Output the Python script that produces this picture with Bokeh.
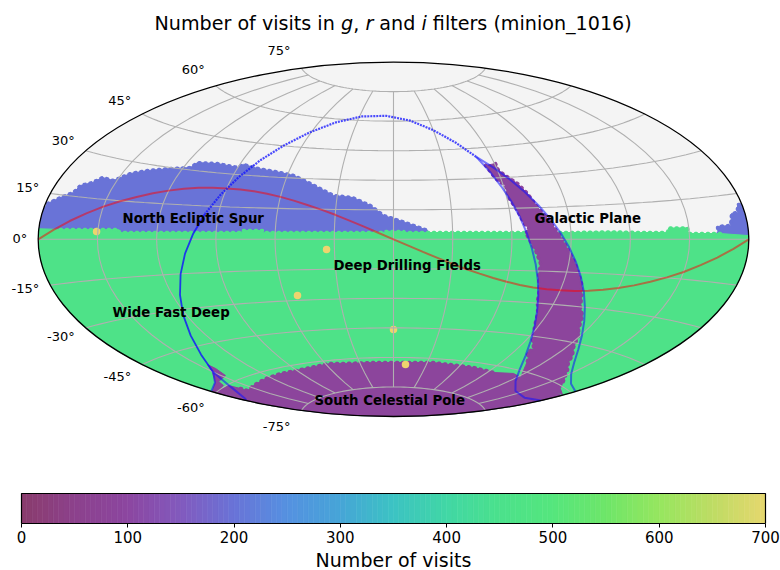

import numpy as np
from bokeh.plotting import figure
from bokeh.layouts import column
from bokeh.models import Label, FixedTicker, LinearAxis
from bokeh.embed import file_html
from bokeh.resources import INLINE
from bokeh.core.properties import value

# ---- data -----------------------------------------------------------------
TITLE_PARTS = ["Number of visits in", "g", ",", "r", "and", "i", "filters (minion_1016)"]
LAT_TICKS = [75, 60, 45, 30, 15, 0, -15, -30, -45, -60, -75]
LON_GRID = [-150, -120, -90, -60, -30, 0, 30, 60, 90, 120, 150]
COLORBAR_TICKS = [0, 100, 200, 300, 400, 500, 600, 700]
COLORBAR_LABEL = "Number of visits"

VISITS_WFD, VISITS_NES, VISITS_SCP, VISITS_GP, VISITS_DDF = 465, 200, 90, 90, 700

NES_LON = [-179.9,-179.9,-179.9,-179.0,-173.8,-168.5,-167.0,-161.9,-158.6,-151.8,-145.6,-137.9,-126.5,-116.1,-114.4,-102.9,-90.2,-87.9,-78.6,-64.5,-56.5,-47.0,-32.0,-21.8,-12.0,-5.1,6.1,17.3,17.2]
NES_LAT = [1.2,5.4,10.0,11.7,14.1,16.3,18.9,20.5,22.7,22.2,25.6,27.6,29.6,31.0,33.4,34.0,33.2,34.8,33.5,32.3,31.2,28.1,22.0,21.1,17.1,12.1,8.5,4.5,-0.6]
NES2_LON = [164.7,164.6,171.3,173.2,176.3,177.8,179.8,179.9,179.9,179.8]
NES2_LAT = [-0.4,4.5,4.7,8.7,8.9,11.5,11.3,7.7,3.5,0.3]

WFD_TOP_LON = [-180,-169.0,-153.8,-139.6,-138.9,-123.2,-108.0,-92.8,-77.1,-76.6,-66.5,-65.9,-47.2,-26.9,-4.6,-4.1,5.1,5.6,28.9,49.2,69.5,89.8,110.1,125.3,138.9,139.7,149.3,149.5,165.8,180]
WFD_TOP_LAT = [3.4,3.4,3.6,3.8,2.7,2.8,3.0,3.1,3.2,4.1,4.2,3.3,3.4,3.4,3.5,4.0,4.0,3.5,3.4,3.3,3.2,3.1,3.2,2.8,2.7,4.4,4.3,2.2,2.0,1.2]

SCP_TOP_LON = [-180,-160.6,-158.7,-158.3,-145.1,-125.1,-106.7,-91.1,-75.7,-55.6,-41.1,-20.5,0.0,17.8,35.4,57.9,73.2,95.2,112.0,122.8,149.7,174.8,180]
SCP_TOP_LAT = [-59.8,-60.3,-62.5,-63.9,-63.4,-62.7,-62.4,-62.5,-62.2,-61.5,-62.2,-62.4,-62.6,-62.4,-62.0,-62.4,-62.4,-63.1,-61.7,-62.4,-62.5,-61.9,-61.9]

TAIL_LON = [-144.3,-144.1,-147.1,-160.0,-163.5,-176.9,-179.5,-163.3,-150.9]
TAIL_LAT = [-52.1,-54.2,-57.3,-58.1,-59.6,-60.0,-59.3,-57.9,-55.0]

GP_LEFT_LON = [54.3,57.0,61.2,60.9,64.1,66.3,69.5,66.9,72.2,75.5,76.1,78.6,80.3,84.3,86.6,93.0,100.4,99.6,105.6,110.8,122.8]
GP_LEFT_LAT = [36.3,29.7,26.1,20.3,13.9,8.1,4.2,3.3,-5.3,-11.4,-18.0,-23.2,-28.8,-34.7,-38.9,-46.1,-50.2,-52.3,-54.7,-57.6,-62.4]
GP_RIGHT_LON = [60.6,60.5,63.2,68.1,71.6,74.8,78.8,83.7,88.9,93.3,96.3,99.7,103.2,106.0,110.3,115.6,118.0,124.4,130.8,135.5,144.2,159.7,166.9,178.7]
GP_RIGHT_LAT = [36.9,33.5,30.9,26.8,21.8,15.1,9.8,2.7,-5.1,-11.0,-15.4,-19.8,-25.9,-30.3,-33.6,-39.9,-41.0,-46.8,-49.8,-52.6,-55.2,-59.3,-60.7,-61.5]

DDF_LON = [-150.6,-34.0,-52.9,0.0,11.0]
DDF_LAT = [2.9,-5.1,-27.6,-45.8,-63.5]

ECL_LON = [-180,-172.5,-165,-157.5,-150,-142.5,-135,-127.5,-120,-112.5,-105,-97.5,-90,-82.5,-75,-67.5,-60,-52.5,-45,-37.5,-30,-22.5,-15,-7.5,0,7.5,15,22.5,30,37.5,45,52.5,60,67.5,75,82.5,90,97.5,105,112.5,120,127.5,135,142.5,150,157.5,165,172.5,180]
ECL_LAT = [0,3.2,6.4,9.4,12.3,14.8,17.0,19.0,20.6,21.9,22.8,23.3,23.4,23.3,22.8,21.9,20.6,19.0,17.0,14.8,12.3,9.4,6.4,3.2,0,-3.2,-6.4,-9.4,-12.3,-14.8,-17.0,-19.0,-20.6,-21.9,-22.8,-23.3,-23.4,-23.3,-22.8,-21.9,-20.6,-19.0,-17.0,-14.8,-12.3,-9.4,-6.4,-3.2,0]

MW_LOOP_LON = [51.0,42.0,30.0,13.9,-6.5,-28.1,-46.8,-61.1,-71.7,-79.9,-86.4,-91.9,-96.9,-101.5,-106.1,-110.8,-116.0,-121.9,-129.0,-138.0,-150.0]
MW_LOOP_LAT = [40.7,48.3,55.0,60.2,62.7,62.0,58.3,52.4,45.2,37.3,28.9,20.3,11.5,2.6,-6.3,-15.1,-23.9,-32.4,-40.7,-48.3,-55.0]
MW_UP_LON = [-150.0,-163.9,-179.3,-180,180,165.1,150.9,138.9,129.0,120.9,114.0,108.1,102.9,98.1,93.6,89.2,84.8,80.3,75.5,70.4,64.8,58.4,51.0]
MW_UP_LAT = [-55.0,-57.9,-59.1,-59.2,-59.2,-58.3,-55.8,-52.0,-47.2,-41.8,-35.9,-29.8,-23.4,-16.9,-10.4,-3.8,2.9,9.5,16.1,22.6,28.9,35.0,40.7]
MW_LO_LON = [-150.0,-161.1,-176.3,-180,180,164.4,143.4,125.1,111.2,101.1,93.6,87.9,83.3,79.5,76.2,73.2,70.3,67.6,64.9,62.0,58.8,55.3,51.0]
MW_LO_LAT = [-55.0,-60.7,-65.1,-65.5,-65.5,-67.4,-67.1,-64.2,-59.6,-53.8,-47.5,-40.7,-33.8,-26.6,-19.3,-12.0,-4.5,3.0,10.6,18.2,25.7,33.2,40.7]

CMAP_VALUES = [0,50,100,150,200,250,300,350,400,450,500,550,600,650,700]
CMAP_RED    = [138,140,140,130,105,85,70,60,65,75,85,110,150,190,230]
CMAP_GREEN  = [60,65,70,90,115,145,165,195,215,225,230,230,230,220,215]
CMAP_BLUE   = [108,140,160,190,215,225,215,195,165,140,125,105,95,100,110]

ANNOTATIONS = ["North Ecliptic Spur", "Galactic Plane", "Deep Drilling Fields", "Wide Fast Deep", "South Celestial Pole"]

# ---- helpers --------------------------------------------------------------
def aitoff(lon, lat):
    lon = np.radians(np.asarray(lon, float)); lat = np.radians(np.asarray(lat, float))
    a = np.arccos(np.cos(lat) * np.cos(lon / 2))
    s = np.sinc(a / np.pi)
    return 2 * np.cos(lat) * np.sin(lon / 2) / s, np.sin(lat) / s

def colour(v):
    return "#%02x%02x%02x" % tuple(int(round(np.interp(v, CMAP_VALUES, c))) for c in (CMAP_RED, CMAP_GREEN, CMAP_BLUE))

def split_wrap(lon, lat):
    out, cur = [], [[], []]
    for i in range(len(lon)):
        if i and abs(lon[i] - lon[i - 1]) > 180:
            out.append(cur); cur = [[], []]
        cur[0].append(lon[i]); cur[1].append(lat[i])
    out.append(cur)
    return out

FONT = "DejaVu Sans"
W, H_MAP, H_BAR, H_FOOT = 780, 492, 56, 22
LEFT = 6
CX, CY, RX, RY = 393.0, 238.8, 355.3, 177.2
SX, SY = RX / np.pi, RY / (np.pi / 2)

p = figure(width=W, height=H_MAP, output_backend="svg", toolbar_location=None,
           x_range=((LEFT - CX) / SX, (W - CX) / SX),
           y_range=((CY - H_MAP) / SY, CY / SY),
           min_border=0, min_border_left=LEFT, background_fill_color=None, border_fill_color=None)
p.axis.visible = False
p.grid.visible = False
p.outline_line_color = None

def patch(lon, lat, v):
    x, y = aitoff(lon, lat)
    p.patch(x, y, fill_color=colour(v), line_color=colour(v), line_width=1)

def beads(lon, lat, v):
    x, y = aitoff(lon, lat)
    p.line(x, y, line_color=colour(v), line_width=3.5, line_dash="1 5", line_cap="round")

# sky background
p.ellipse(x=[0], y=[0], width=[2 * np.pi], height=[np.pi], fill_color="#f4f4f4", line_color=None)

limb = np.arange(5, 90, 5.0)
# north ecliptic spur
patch(NES_LON, NES_LAT, VISITS_NES)
patch(NES2_LON, NES2_LAT, VISITS_NES)
beads(NES_LON[3:-1], NES_LAT[3:-1], VISITS_NES)
beads(NES2_LON[:7], NES2_LAT[:7], VISITS_NES)
# wide fast deep
wl = WFD_TOP_LON + [180.0] * len(limb) + [180.0, -180.0] + [-180.0] * len(limb)
wb = WFD_TOP_LAT + list(-limb) + [-89.9, -89.9] + list(-limb[::-1])
patch(wl, wb, VISITS_WFD)
beads(WFD_TOP_LON[1:-1], WFD_TOP_LAT[1:-1], VISITS_WFD)
# galactic plane
patch(GP_LEFT_LON + GP_RIGHT_LON[::-1], GP_LEFT_LAT + GP_RIGHT_LAT[::-1], VISITS_GP)
beads(GP_LEFT_LON[:-1], GP_LEFT_LAT[:-1], VISITS_GP)
beads(GP_RIGHT_LON[:-2], GP_RIGHT_LAT[:-2], VISITS_GP)
# south celestial pole
lim2 = np.arange(-65, -89, -5.0)
patch(SCP_TOP_LON + [180.0] * len(lim2) + [180.0, -180.0] + [-180.0] * len(lim2),
      SCP_TOP_LAT + list(lim2) + [-89.9, -89.9] + list(lim2[::-1]), VISITS_SCP)
beads(SCP_TOP_LON[2:18], SCP_TOP_LAT[2:18], VISITS_SCP)
patch(TAIL_LON, TAIL_LAT, VISITS_GP)

# deep drilling fields
x, y = aitoff(DDF_LON, DDF_LAT)
p.scatter(x, y, size=7.5, marker="circle", fill_color="#eed46e", line_color=None)

# graticule
lat_s = np.linspace(-180, 180, 73)
for la in LAT_TICKS:
    x, y = aitoff(lat_s, np.full_like(lat_s, la))
    p.line(x, y, line_color="#b0b0b0", line_width=1.1)
lon_s = np.linspace(-75, 75, 41)
for lo in LON_GRID:
    x, y = aitoff(np.full_like(lon_s, lo), lon_s)
    p.line(x, y, line_color="#b0b0b0", line_width=1.1)

# ecliptic
x, y = aitoff(ECL_LON, ECL_LAT)
p.line(x, y, line_color="#ff0000", line_alpha=0.5, line_width=2)

# milky way zone
x, y = aitoff(MW_LOOP_LON[:13], MW_LOOP_LAT[:13])
p.line(x, y, line_color="#1010ff", line_alpha=0.75, line_width=2.2, line_dash="2 1")
x, y = aitoff(MW_LOOP_LON[12:], MW_LOOP_LAT[12:])
p.line(x, y, line_color="#1010ff", line_alpha=0.8, line_width=1.8)
for lon, lat in (*split_wrap(MW_UP_LON, MW_UP_LAT), *split_wrap(MW_LO_LON, MW_LO_LAT)):
    x, y = aitoff(lon, lat)
    p.line(x, y, line_color="#1010ff", line_alpha=0.55, line_width=2)

# outline
p.ellipse(x=[0], y=[0], width=[2 * np.pi], height=[np.pi], fill_color=None, line_color="black", line_width=1.3)

def label(px, py, text, size, style="normal", align="left"):
    p.add_layout(Label(x=px - LEFT, y=H_MAP - py, x_units="screen", y_units="screen", text=text,
                       text_font=FONT, text_font_size=size, text_font_style=style, text_align=align,
                       text_baseline="middle", text_color="black"))

# latitude labels
LAT_DY = {75: -18, 60: -16, 45: -13.5, 30: -10, 15: -6, 0: -1, -15: 3, -30: 8.6, -45: 12, -60: 15, -75: 16}
x, y = aitoff([-180.0 + 1e-6] * len(LAT_TICKS), LAT_TICKS)
for t, xi, yi in zip(LAT_TICKS, x, y):
    label(CX + xi * SX - 11, CY - yi * SY + LAT_DY[t], "%d°" % t, "13px", align="right")

# title
START_EM = [0, 9.747, 10.382, 11.018, 11.747, 13.947, 14.543]
TITLE_PX = 19.14
for part, em in zip(TITLE_PARTS, START_EM):
    label(154 + em * TITLE_PX, 23, part, "%.2fpx" % TITLE_PX, "italic" if part in ("g", "r", "i") else "normal")

# annotations
for t, (ax, ay) in zip(ANNOTATIONS, [(122, 218), (534, 218), (333, 265), (112, 312), (314, 400)]):
    label(ax, ay, t, "13.3px", "bold")

# ---- colour bar -----------------------------------------------------------
BAR_L, BAR_R = 21, 765
K = (BAR_R - BAR_L) / 700
cb = figure(width=W, height=H_BAR, output_backend="svg", toolbar_location=None,
            x_range=(-(BAR_L - LEFT) / K, 700 + (W - BAR_R) / K), y_range=(0, 31 / 30),
            min_border=0, min_border_left=LEFT, min_border_bottom=25, x_axis_location=None, y_axis_location=None,
            background_fill_color=None, border_fill_color=None)
cb.grid.visible = False
cb.outline_line_color = None
edges = np.arange(0, 701, 5)
cols = [colour(e + 2.5) for e in edges[:-1]]
cb.quad(left=edges[:-1], right=edges[1:], bottom=0, top=1, fill_color=cols, line_color=cols, line_width=0.6)
cb.quad(left=[0], right=[700], bottom=[0], top=[1], fill_color=None, line_color="black", line_width=1.2)
ax = LinearAxis(ticker=FixedTicker(ticks=COLORBAR_TICKS), bounds=(0, 700))
ax.axis_line_color = "black"
ax.major_tick_in = 0
ax.major_tick_out = 4
ax.major_tick_line_color = "black"
ax.minor_tick_line_color = None
ax.major_label_text_font = FONT
ax.major_label_text_font_size = "15px"
ax.major_label_text_color = "black"
ax.major_label_standoff = 3
cb.add_layout(ax, "below")

# colour bar label
foot = figure(width=W, height=H_FOOT, output_backend="svg", toolbar_location=None,
              x_range=(LEFT, W), y_range=(0, H_FOOT), min_border=0, min_border_left=LEFT,
              x_axis_location=None, y_axis_location=None,
              background_fill_color=None, border_fill_color=None)
foot.grid.visible = False
foot.outline_line_color = None
foot.text(x=[393], y=[11], text=[COLORBAR_LABEL], text_align="center", text_baseline="middle",
          text_font=value(FONT), text_font_size="19px", text_color="black")

layout = column(p, cb, foot, spacing=0)
open("out.html", "w").write(file_html(layout, INLINE))
